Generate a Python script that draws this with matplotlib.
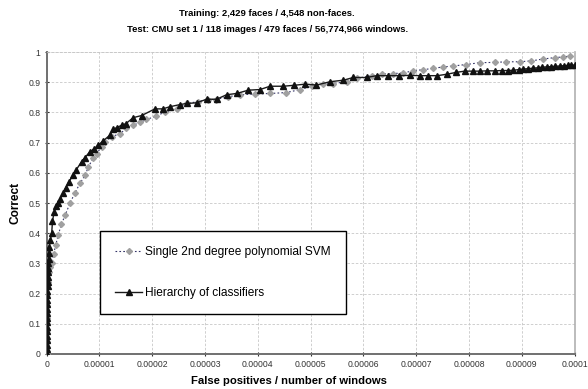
import numpy as np
import matplotlib
matplotlib.use("Agg")
import matplotlib.pyplot as plt

plt.rcParams['font.family'] = ['Liberation Sans', 'DejaVu Sans']

# -------- DATA (x in units of 1e-5 false positives per window) --------
svm_x = [0, 0, 0, 0, 0, 0.01, 0.02, 0.04, 0.06, 0.10, 0.13, 0.17, 0.22, 0.28, 0.35,
         0.44, 0.53, 0.63, 0.73, 0.79, 0.88, 0.95, 1.04, 1.10, 1.23, 1.39, 1.51,
         1.64, 1.77, 1.89, 2.08, 2.24, 2.46, 2.65, 2.87, 3.05, 3.20, 3.44, 3.66,
         3.94, 4.23, 4.54, 4.80, 5.02, 5.24, 5.43, 5.68, 5.87, 6.16, 6.35, 6.57,
         6.75, 6.94, 7.13, 7.32, 7.51, 7.70, 7.95, 8.20, 8.49, 8.71, 8.96, 9.18,
         9.40, 9.63, 9.78, 9.92]
svm_y = [0.0, 0.04, 0.08, 0.12, 0.16, 0.20, 0.24, 0.27, 0.289, 0.30, 0.33, 0.36,
         0.395, 0.43, 0.46, 0.499, 0.532, 0.565, 0.593, 0.62, 0.648, 0.664, 0.687,
         0.703, 0.72, 0.73, 0.747, 0.758, 0.767, 0.777, 0.788, 0.802, 0.81, 0.83,
         0.836, 0.843, 0.843, 0.852, 0.859, 0.861, 0.863, 0.866, 0.876, 0.887,
         0.894, 0.896, 0.902, 0.913, 0.922, 0.927, 0.929, 0.931, 0.938, 0.942,
         0.946, 0.951, 0.954, 0.959, 0.965, 0.966, 0.968, 0.968, 0.971, 0.977,
         0.982, 0.984, 0.987]

hier_x = [0, 0, 0, 0, 0, 0, 0, 0.005, 0.005, 0.005, 0.01, 0.01, 0.01, 0.015, 0.015,
          0.02, 0.02, 0.025, 0.025, 0.03, 0.03, 0.035, 0.04, 0.05, 0.07, 0.095,
          0.11, 0.14, 0.18, 0.22, 0.26, 0.31, 0.36, 0.42, 0.50, 0.56, 0.66, 0.72,
          0.82, 0.90, 0.98, 1.06, 1.20, 1.26, 1.33, 1.42, 1.50, 1.64, 1.80, 2.05,
          2.20, 2.33, 2.52, 2.65, 2.84, 3.03, 3.22, 3.41, 3.60, 3.82, 4.04, 4.23,
          4.48, 4.68, 4.90, 5.11, 5.37, 5.62, 5.81, 6.06, 6.25, 6.47, 6.68, 6.88,
          7.07, 7.23, 7.40, 7.59, 7.76, 7.92, 8.08, 8.20, 8.35, 8.50, 8.62, 8.74,
          8.84, 8.94, 9.03, 9.12, 9.22, 9.30, 9.38, 9.47, 9.55, 9.63, 9.72, 9.80,
          9.88, 9.94, 10.0]
hier_y = [0.0, 0.015, 0.03, 0.045, 0.06, 0.075, 0.09, 0.105, 0.12, 0.135, 0.15,
          0.165, 0.18, 0.195, 0.21, 0.225, 0.24, 0.255, 0.27, 0.285, 0.30, 0.315,
          0.334, 0.355, 0.377, 0.40, 0.44, 0.47, 0.49, 0.50, 0.515, 0.533, 0.55,
          0.57, 0.593, 0.61, 0.637, 0.65, 0.67, 0.68, 0.692, 0.705, 0.725, 0.745,
          0.75, 0.758, 0.763, 0.783, 0.79, 0.812, 0.812, 0.819, 0.826, 0.83, 0.832,
          0.844, 0.844, 0.859, 0.863, 0.874, 0.876, 0.887, 0.887, 0.89, 0.894,
          0.891, 0.902, 0.907, 0.916, 0.916, 0.922, 0.922, 0.922, 0.923, 0.922,
          0.922, 0.922, 0.927, 0.933, 0.937, 0.937, 0.937, 0.938, 0.938, 0.939,
          0.939, 0.94, 0.942, 0.944, 0.945, 0.947, 0.948, 0.95, 0.951, 0.952,
          0.953, 0.954, 0.955, 0.956, 0.957, 0.957]

x_ticks = [0, 0.00001, 0.00002, 0.00003, 0.00004, 0.00005, 0.00006, 0.00007,
           0.00008, 0.00009, 0.0001]
x_tick_labels = ["0", "0.00001", "0.00002", "0.00003", "0.00004", "0.00005",
                 "0.00006", "0.00007", "0.00008", "0.00009", "0.0001"]
y_ticks = [0, 0.1, 0.2, 0.3, 0.4, 0.5, 0.6, 0.7, 0.8, 0.9, 1.0]
y_tick_labels = ["0", "0.1", "0.2", "0.3", "0.4", "0.5", "0.6", "0.7", "0.8", "0.9", "1"]

# -------- PLOT --------
fig = plt.figure(figsize=(5.88, 3.89), dpi=100)
ax = fig.add_axes([0.0794, 0.09, 0.8977, 0.776])

ax.plot(np.array(svm_x) * 1e-5, svm_y, linestyle=(0, (1.5, 2)), color='#333366',
        linewidth=0.8, marker='D', markersize=3, markerfacecolor='#a0a0a0',
        markeredgecolor='#a0a0a0', label='Single 2nd degree polynomial SVM', zorder=3)
ax.plot(np.array(hier_x) * 1e-5, hier_y, linestyle='-', color='#1a1a1a',
        linewidth=1.0, marker='^', markersize=4.3, markerfacecolor='#111111',
        markeredgecolor='#111111', label='Hierarchy of classifiers', zorder=4)

ax.set_xlim(0, 0.0001)
ax.set_ylim(0, 1)
ax.set_xticks(x_ticks)
ax.set_xticklabels(x_tick_labels)
ax.set_yticks(y_ticks)
ax.set_yticklabels(y_tick_labels)
ax.tick_params(labelsize=6.2, colors='#333333', length=3, width=0.8, direction='inout', pad=3)

ax.grid(True, linestyle=(0, (3, 2)), color='#c8c8c8', linewidth=0.6)
ax.set_axisbelow(True)
for side in ['left', 'bottom']:
    ax.spines[side].set_color('#707070')
    ax.spines[side].set_linewidth(1.4)
ax.spines['right'].set_color('#b0b0b0')
ax.spines['right'].set_linewidth(1.2)
ax.spines['top'].set_color('#c8c8c8')
ax.spines['top'].set_linewidth(0.6)
ax.spines['top'].set_linestyle((0, (3, 2)))

ax.set_ylabel("Correct", fontsize=8.6, fontweight='bold', labelpad=5)
fig.text(289 / 588, 1 - 381 / 389, "False positives / number of windows",
         fontsize=8.1, fontweight='bold', ha='center', va='center')

fig.text(267 / 588, 1 - 14 / 389, "Training: 2,429 faces / 4,548 non-faces.",
         fontsize=6.8, fontweight='bold', ha='center', va='center')
fig.text(268 / 588, 1 - 29 / 389, "Test: CMU set 1 / 118 images / 479 faces / 56,774,966 windows.",
         fontsize=6.8, fontweight='bold', ha='center', va='center')

leg = ax.legend(loc='upper left', bbox_to_anchor=(0.101, 0.407), fontsize=8.6,
                frameon=True, fancybox=False, framealpha=1, edgecolor='black',
                borderpad=1.25, labelspacing=2.45, handlelength=2.3, handletextpad=0.25,
                borderaxespad=0)
leg.get_frame().set_linewidth(1.0)

fig.savefig("out.png", dpi=100)
